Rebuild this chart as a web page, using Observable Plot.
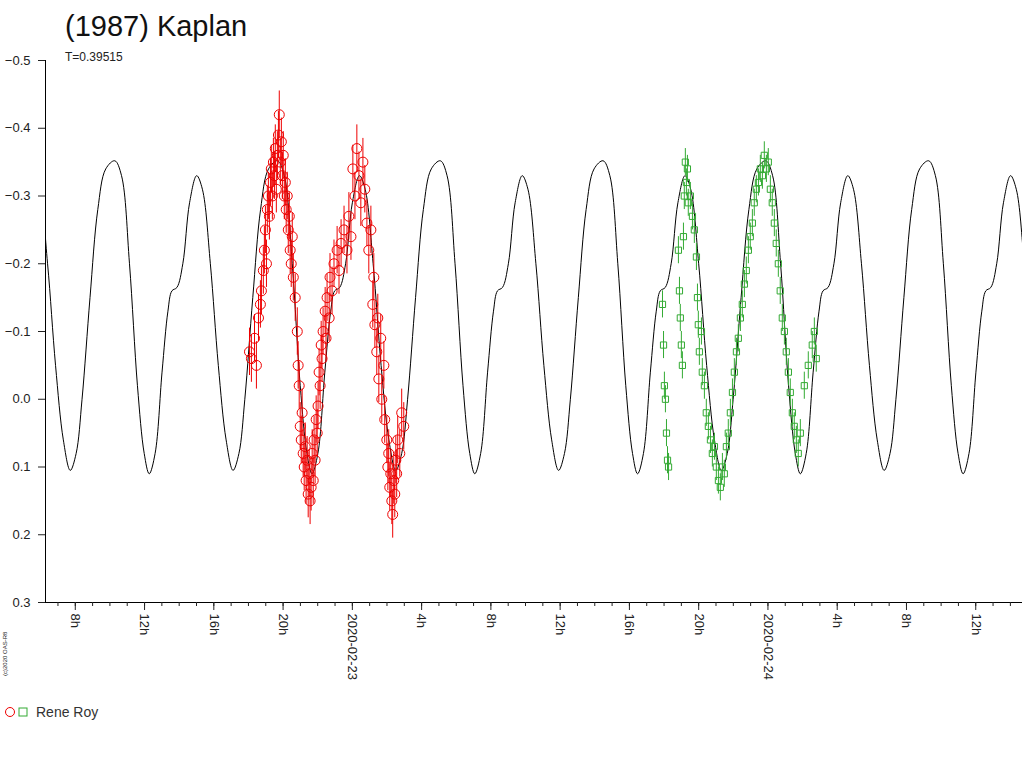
<!DOCTYPE html>
<html><head><meta charset="utf-8">
<script src="https://cdn.jsdelivr.net/npm/d3@7"></script>
<script src="https://cdn.jsdelivr.net/npm/@observablehq/plot@0.6"></script>
<style>
body{margin:0;background:#fff;font-family:Arial,"Liberation Sans",sans-serif;}
#wrap{position:relative;width:1024px;height:768px;}
#title{position:absolute;left:65px;top:10px;font-size:29px;color:#111;}
#sub{position:absolute;left:65px;top:50px;font-size:12px;color:#222;}
#copy{position:absolute;left:2px;top:676px;font-size:6px;transform-origin:0 0;transform:rotate(-90deg);color:#222;white-space:nowrap;}
#legend{position:absolute;left:4px;top:704px;font-size:14px;color:#333;display:flex;align-items:center;gap:2px;}
</style></head><body>
<div id="wrap">
<div id="chart"></div>
<div id="title">(1987) Kaplan</div>
<div id="sub">T=0.39515</div>
<div id="copy">(c)2020 OAS-R8</div>
<div id="legend"><svg width="26" height="12"><circle cx="6" cy="6" r="4.5" fill="none" stroke="#e00"/><rect x="15" y="2" width="8" height="8" fill="none" stroke="#3a3"/></svg><span style="margin-left:4px">Rene Roy</span></div>
</div>
<script>
// hours since 2020-02-22 00:00
const redT=[18.06,18.17,18.35,18.46,18.58,18.69,18.75,18.86,18.92,18.98,19.04,19.09,19.15,19.21,19.27,19.32,19.38,19.44,19.50,19.55,19.61,19.67,19.73,19.78,19.84,19.90,19.96,20.01,20.07,20.13,20.18,20.24,20.30,20.36,20.41,20.47,20.53,20.59,20.70,20.82,20.87,20.93,20.99,21.05,21.10,21.16,21.22,21.28,21.33,21.39,21.45,21.51,21.56,21.62,21.68,21.74,21.79,21.85,21.91,21.97,22.02,22.08,22.14,22.20,22.25,22.31,22.43,22.48,22.54,22.66,22.71,22.83,22.94,23.12,23.23,23.35,23.52,23.69,23.80,23.92,24.03,24.15,24.26,24.38,24.49,24.61,24.72,24.84,24.95,25.07,25.18,25.24,25.30,25.41,25.47,25.53,25.64,25.70,25.82,25.87,25.99,26.05,26.10,26.16,26.22,26.28,26.33,26.39,26.45,26.51,26.56,26.62,26.74,26.85,26.97];
const redM=[-0.07,-0.06,-0.09,-0.05,-0.12,-0.14,-0.16,-0.19,-0.22,-0.25,-0.2,-0.28,-0.3,-0.27,-0.32,-0.34,-0.3,-0.35,-0.33,-0.37,-0.31,-0.36,-0.39,-0.42,-0.35,-0.38,-0.33,-0.36,-0.3,-0.32,-0.28,-0.3,-0.25,-0.27,-0.22,-0.2,-0.24,-0.18,-0.15,-0.1,-0.05,-0.02,0.04,0.06,0.02,0.08,0.1,0.07,0.12,0.09,0.14,0.11,0.15,0.13,0.08,0.12,0.06,0.09,0.03,0.05,0.01,-0.04,-0.02,-0.08,-0.06,-0.1,-0.13,-0.09,-0.15,-0.12,-0.18,-0.16,-0.2,-0.22,-0.19,-0.23,-0.25,-0.22,-0.27,-0.24,-0.34,-0.3,-0.37,-0.33,-0.29,-0.35,-0.31,-0.26,-0.22,-0.25,-0.14,-0.18,-0.11,-0.07,-0.12,-0.03,-0.09,0.0,-0.05,0.03,0.06,0.1,0.08,0.13,0.11,0.15,0.17,0.12,0.14,0.09,0.11,0.06,0.08,0.02,0.04];
const redErr=0.035;
const greenT=[41.91,41.97,42.02,42.08,42.14,42.20,42.26,42.83,42.89,42.94,43.00,43.06,43.12,43.17,43.23,43.29,43.35,43.40,43.52,43.64,43.75,43.87,43.93,43.98,44.04,44.16,44.21,44.33,44.44,44.56,44.68,44.79,44.91,45.02,45.14,45.25,45.37,45.48,45.60,45.71,45.83,45.95,46.06,46.18,46.29,46.41,46.52,46.64,46.75,46.87,46.98,47.10,47.21,47.33,47.45,47.56,47.68,47.79,47.91,48.02,48.14,48.25,48.37,48.48,48.60,48.71,48.83,48.95,49.06,49.18,49.29,49.41,49.52,49.64,49.75,49.87,50.10,50.33,50.56,50.68,50.79];
const greenM=[-0.14,-0.08,-0.02,0.0,0.05,0.09,0.1,-0.22,-0.16,-0.12,-0.08,-0.05,-0.24,-0.3,-0.35,-0.32,-0.34,-0.29,-0.3,-0.27,-0.25,-0.21,-0.15,-0.11,-0.07,-0.1,-0.04,-0.02,0.02,0.04,0.06,0.08,0.07,0.1,0.12,0.13,0.1,0.11,0.07,0.05,0.02,-0.01,-0.04,-0.07,-0.09,-0.12,-0.14,-0.17,-0.19,-0.22,-0.24,-0.26,-0.29,-0.31,-0.32,-0.34,-0.33,-0.36,-0.34,-0.35,-0.31,-0.29,-0.26,-0.23,-0.2,-0.16,-0.12,-0.1,-0.07,-0.04,-0.01,0.02,0.04,0.06,0.08,0.05,-0.02,-0.05,-0.08,-0.1,-0.06];
const greenErr=0.02;
// model light curve: one period profile (hours after a minimum, mag)
const period=9.40, t0=7.71;
const profDt=[0,0.34,0.68,1.14,1.59,2.05,2.57,2.96,3.42,3.88,4.27,4.56,4.90,5.30,5.64,5.87,6.16,6.50,6.89,7.30,7.63,8.09,8.55,9.00,9.40];
const profM=[0.105,0.08,0.0,-0.15,-0.28,-0.34,-0.352,-0.33,-0.2,-0.02,0.08,0.11,0.08,-0.04,-0.13,-0.16,-0.165,-0.2,-0.29,-0.33,-0.31,-0.2,-0.05,0.06,0.105];
const yTicks=[-0.5,-0.4,-0.3,-0.2,-0.1,0,0.1,0.2,0.3];
const xMajor=[8,12,16,20,24,28,32,36,40,44,48,52,56,60];
const xDomain=[6.28,62.7];

const model=[];
for(let k=-1;k<7;k++)profDt.forEach((d,i)=>{if(i===0&&k>-1)return;const t=t0+k*period+d;model.push({t,m:profM[i]});});
const red=redT.map((t,i)=>({t,m:redM[i]}));
const green=greenT.map((t,i)=>({t,m:greenM[i]}));
const minor=d3.range(7,63);
const fmtX=h=>h%24===0?(h===24?"2020-02-23":"2020-02-24"):(h%24)+"h";

const chart=Plot.plot({
  width:1024,height:700,marginLeft:45,marginTop:60,marginBottom:98,marginRight:2,
  style:{fontFamily:"Arial, Liberation Sans, sans-serif",fontSize:"13px",color:"#222"},
  x:{domain:xDomain},
  y:{domain:[-0.5,0.3],reverse:true},
  marks:[
    Plot.ruleY([0.3],{stroke:"#000"}),
    Plot.ruleX([xDomain[0]],{stroke:"#000"}),
    Plot.axisY({ticks:yTicks,tickFormat:d3.format(".1f"),tickSize:7,tickPadding:8,label:null,fontSize:13}),
    Plot.axisX({ticks:minor,tickFormat:()=>"",tickSize:4,label:null}),
    Plot.axisX({ticks:xMajor,tickFormat:fmtX,tickSize:8,tickRotate:90,label:null,fontSize:13}),
    Plot.line(model.filter(d=>d.t>=xDomain[0]-1&&d.t<=xDomain[1]+1),{x:"t",y:"m",stroke:"#000",strokeWidth:1,curve:"catmull-rom",clip:true}),
    Plot.ruleX(red,{x:"t",y1:d=>d.m-redErr,y2:d=>d.m+redErr,stroke:"#e00",strokeWidth:1}),
    Plot.dot(red,{x:"t",y:"m",r:5,stroke:"#e00",fill:"none",strokeWidth:1}),
    Plot.ruleX(green,{x:"t",y1:d=>d.m-greenErr,y2:d=>d.m+greenErr,stroke:"#3a3",strokeWidth:1}),
    Plot.dot(green,{x:"t",y:"m",symbol:"square",r:3.5,stroke:"#3a3",fill:"none",strokeWidth:1})
  ]
});
document.getElementById("chart").appendChild(chart);
</script></body></html>
